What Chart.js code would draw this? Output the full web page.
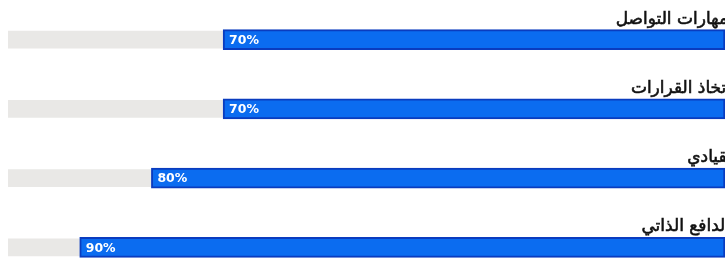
<!DOCTYPE html>
<html>
<head>
<meta charset="utf-8">
<script src="https://cdn.jsdelivr.net/npm/chart.js@4"></script>
<style>
  html, body { margin: 0; padding: 0; background: #fff; overflow: hidden; }
  #wrap { position: relative; width: 725px; height: 282px; }
</style>
</head>
<body>
<div id="wrap"><canvas id="myChart"></canvas></div>
<script>
// skills and their levels (percent)
const skills = ["مهارات التواصل", "اتخاذ القرارات", "القيادي", "الدافع الذاتي"];
const levels = [70, 70, 80, 90];
const track = [100, 100, 100, 100];
// how far the label text runs past the right edge (it is cut in the photo)
const labelShift = [3, 6, 12, 5];

const barLabels = {
  id: "barLabels",
  afterDatasetsDraw(chart) {
    const ctx = chart.ctx;
    const meta = chart.getDatasetMeta(0);
    ctx.save();
    meta.data.forEach((bar, i) => {
      // percent inside the blue bar
      ctx.fillStyle = "#ffffff";
      ctx.font = "bold 12.5px 'DejaVu Sans'";
      ctx.textAlign = "left";
      ctx.textBaseline = "middle";
      ctx.fillText(levels[i] + "%", bar.x + 6, bar.y + 1);
      // skill name above the bar
      ctx.fillStyle = "#111111";
      ctx.strokeStyle = "#111111";
      ctx.lineWidth = 0.6;
      ctx.font = "17px 'DejaVu Sans'";
      ctx.textAlign = "right";
      ctx.textBaseline = "alphabetic";
      ctx.direction = "rtl";
      const x = chart.chartArea.right + labelShift[i];
      ctx.fillText(skills[i], x, bar.y - 16);
      ctx.strokeText(skills[i], x, bar.y - 16);
    });
    ctx.restore();
  }
};

var ctx = document.getElementById("myChart").getContext("2d");
new Chart(ctx, {
  type: "bar",
  data: {
    labels: skills,
    datasets: [
      {
        data: levels,
        backgroundColor: "#0b6cf0",
        borderColor: "#0a3cbf",
        borderWidth: 2,
        borderSkipped: false,
        barThickness: 20,
        order: 0
      },
      {
        data: track,
        backgroundColor: "#e9e8e6",
        borderWidth: 0,
        barThickness: 17,
        order: 1
      }
    ]
  },
  options: {
    indexAxis: "y",
    responsive: true,
    maintainAspectRatio: false,
    animation: false,
    layout: { padding: { left: 8, right: 0, top: 5, bottom: 0 } },
    scales: {
      x: { display: false, min: 0, max: 100, reverse: true, stacked: false },
      y: { display: false, stacked: false, grid: { display: false } }
    },
    datasets: { bar: { grouped: false } },
    plugins: { legend: { display: false }, tooltip: { enabled: false } }
  },
  plugins: [barLabels]
});
</script>
</body>
</html>
